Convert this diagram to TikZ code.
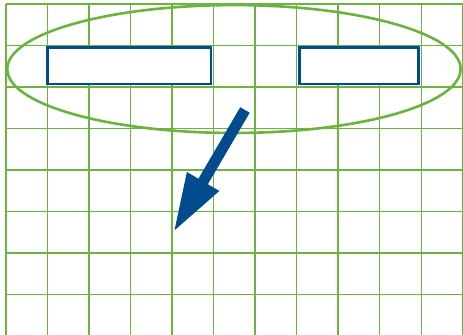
\documentclass[tikz,border=0pt]{standalone}
\usepackage{tikz}
\usetikzlibrary{arrows.meta,positioning,shapes.geometric}
\definecolor{LeafGreen}{HTML}{6DB33F}
\definecolor{PortBlue}{HTML}{004B8D}

\begin{document}
\begin{tikzpicture}[
    slot/.style={draw=PortBlue,line width=1.9pt,fill=white,inner sep=0pt,minimum height=.875cm},
    ring/.style={draw=LeafGreen,line width=1.8pt,ellipse,inner sep=0pt}]
    \useasboundingbox (-.1445,-7.972) rectangle (11.007,.0963);
    \draw[LeafGreen,line width=.9pt] (0,-7.972) grid (11.007,0);
    \node[ring,minimum width=10.92cm,minimum height=3.08cm] (halo) at (5.49,-1.566) {};
    \node[slot,minimum width=3.94cm] (wide) at (2.97,-1.49) {};
    \node[slot,minimum width=2.87cm] (narrow) at (8.495,-1.49) {};
    \coordinate (tail) at (5.756,-2.553);
    \coordinate (tip) at (4.03,-5.5);
    \draw[PortBlue,line width=7.5pt,-{Triangle[length=1.42cm,width=.82cm]}] (tail)--(tip);
  \end{tikzpicture}
\end{document}
